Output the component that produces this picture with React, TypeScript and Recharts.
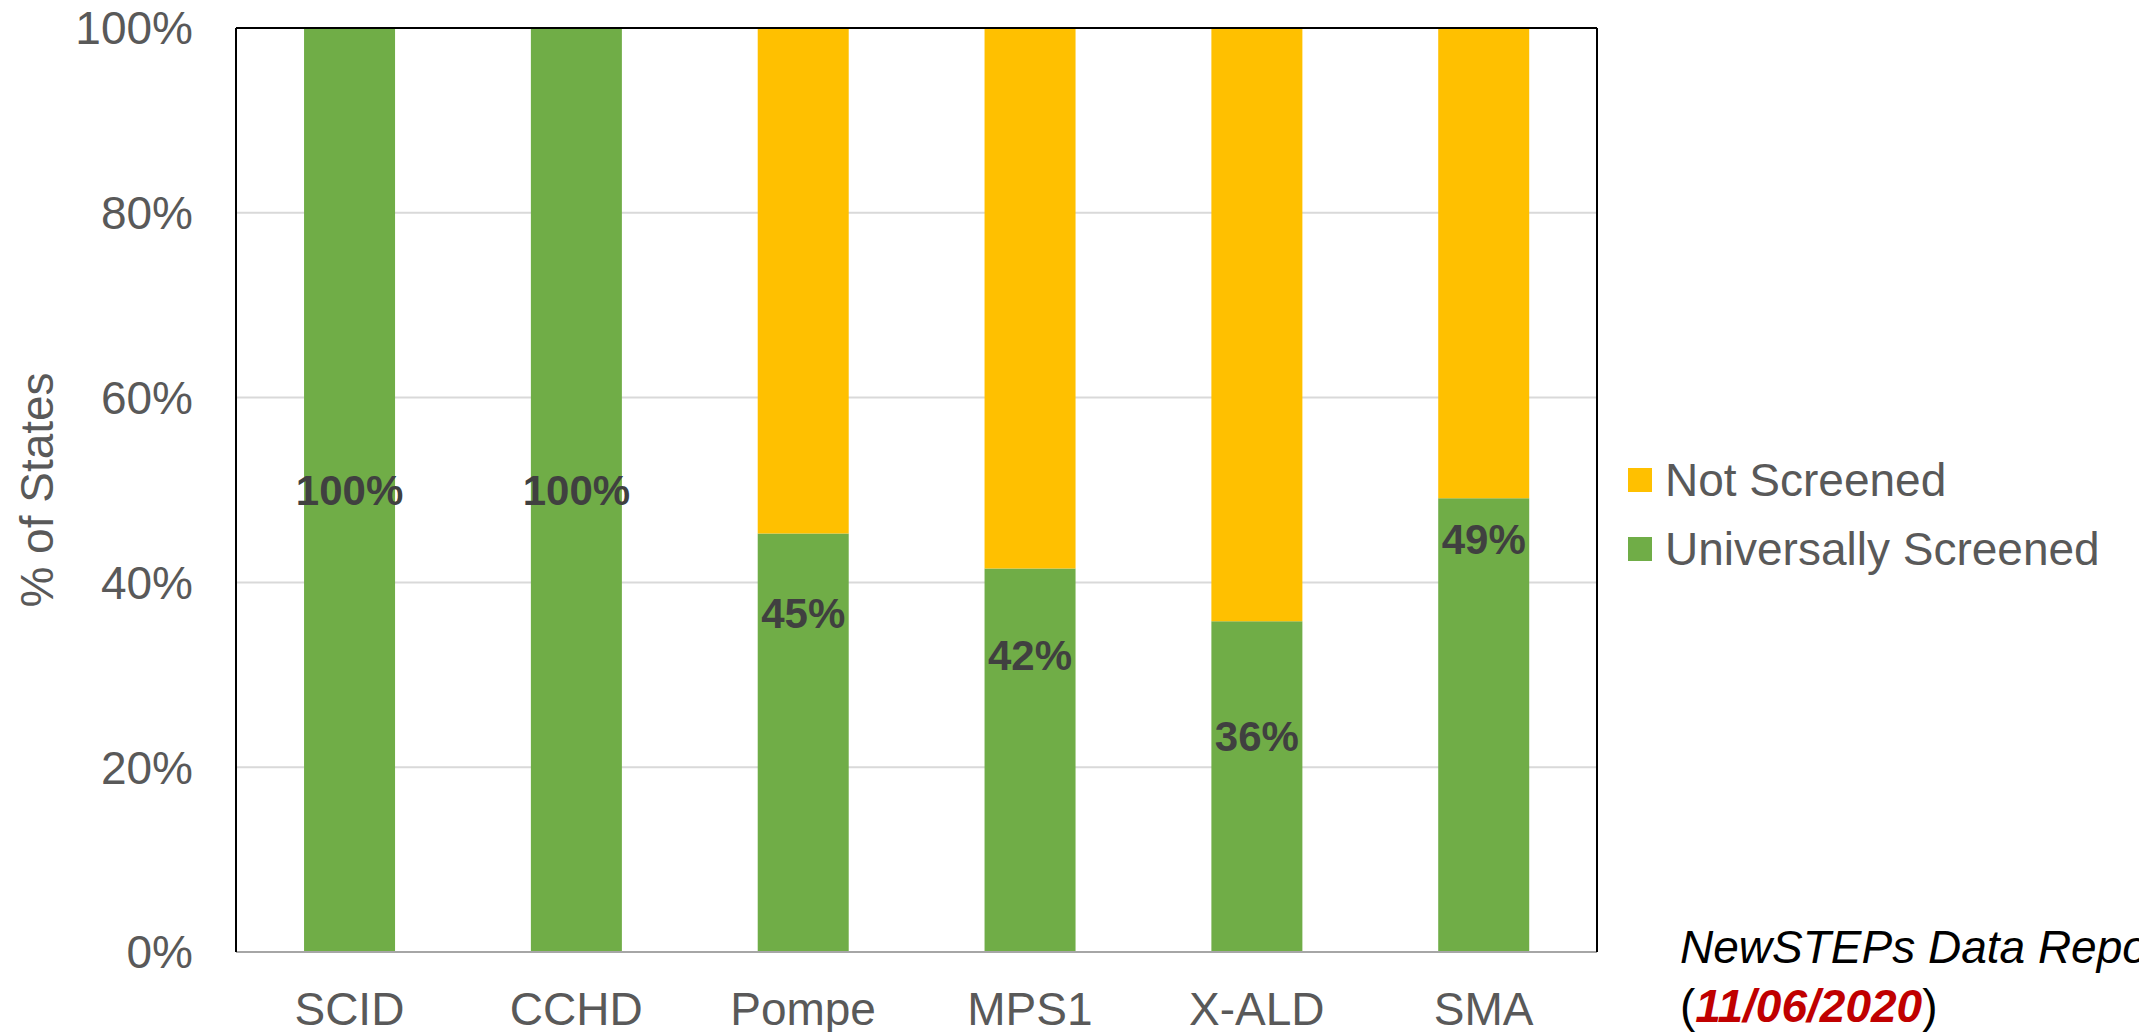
import { BarChart, Bar, XAxis, YAxis, CartesianGrid, Legend, LabelList } from "recharts";

const FONT = "Arial, 'Liberation Sans', sans-serif";

// conditions on the x axis
const categories = ["SCID", "CCHD", "Pompe", "MPS1", "X-ALD", "SMA"];
// % of states
const universallyScreened = [100, 100, 45.3, 41.5, 35.8, 49.1];
const notScreened = [0, 0, 54.7, 58.5, 64.2, 50.9];
// printed labels and where (in % units) they sit on the green bars
const valueLabels = ["100%", "100%", "45%", "42%", "36%", "49%"];
const labelAt = [50, 50, 36.6, 32.1, 23.3, 44.6];
const yTicks = [0, 20, 40, 60, 80, 100];

const GREEN = "#70AD47";
const YELLOW = "#FFC000";

const data = categories.map((name, i) => ({
  name,
  universal: universallyScreened[i],
  notScreened: notScreened[i],
}));

const GreenLabel = (props: any) => {
  const { x, y, width, height, index } = props;
  const value = universallyScreened[index];
  const bottom = y + height;
  const ly = bottom - (height * labelAt[index]) / value;
  return (
    <text
      x={x + width / 2}
      y={ly}
      textAnchor="middle"
      dominantBaseline="central"
      fill="#404040"
      fontSize={42}
      fontWeight="bold"
      fontFamily={FONT}
    >
      {valueLabels[index]}
    </text>
  );
};

const legendItems = [
  { label: "Not Screened", color: YELLOW },
  { label: "Universally Screened", color: GREEN },
];

const renderLegend = () => (
  <div style={{ fontFamily: FONT }}>
    {legendItems.map((it) => (
      <div key={it.label} style={{ display: "flex", alignItems: "center", height: 69 }}>
        <span style={{ width: 24, height: 24, background: it.color, display: "inline-block", marginRight: 13 }} />
        <span style={{ fontSize: 46, color: "#595959", whiteSpace: "nowrap" }}>{it.label}</span>
      </div>
    ))}
  </div>
);

const YLabel = (props: any) => {
  const { viewBox } = props;
  const cy = viewBox.y + viewBox.height / 2;
  const cx = 37;
  return (
    <text
      x={cx}
      y={cy}
      transform={`rotate(-90, ${cx}, ${cy})`}
      textAnchor="middle"
      dominantBaseline="central"
      fill="#595959"
      fontSize={46}
      fontFamily={FONT}
    >
      % of States
    </text>
  );
};

export default function App() {
  return (
    <div style={{ position: "absolute", left: 0, top: 0, width: 2139, height: 1032, overflow: "hidden", background: "#fff" }}>
      <BarChart
        width={2139}
        height={1032}
        data={data}
        margin={{ top: 27, right: 541, left: 0, bottom: 0 }}
        barCategoryGap="30%"
      >
        <CartesianGrid vertical={false} stroke="#D9D9D9" strokeWidth={2} />
        <XAxis
          dataKey="name"
          height={80}
          tickLine={false}
          tickSize={0}
          tickMargin={40}
          axisLine={{ stroke: "#A6A6A6", strokeWidth: 2 }}
          tick={{ fill: "#595959", fontSize: 46, fontFamily: FONT }}
          interval={0}
        />
        <XAxis
          xAxisId="top"
          orientation="top"
          dataKey="name"
          height={1}
          tick={false}
          tickLine={false}
          axisLine={{ stroke: "#000", strokeWidth: 2 }}
        />
        <YAxis
          width={236}
          domain={[0, 100]}
          ticks={yTicks}
          tickFormatter={(v: number) => `${v}%`}
          tickLine={false}
          tickSize={0}
          tickMargin={43}
          axisLine={{ stroke: "#000", strokeWidth: 2 }}
          tick={{ fill: "#595959", fontSize: 46, fontFamily: FONT }}
          label={<YLabel />}
        />
        <YAxis
          yAxisId="right"
          orientation="right"
          width={1}
          domain={[0, 100]}
          tick={false}
          tickLine={false}
          axisLine={{ stroke: "#000", strokeWidth: 2 }}
        />
        <Legend
          layout="horizontal"
          align="center"
          verticalAlign="middle"
          content={renderLegend}
          wrapperStyle={{ left: 1628, top: 445, width: 510, height: 138 }}
        />
        <Bar dataKey="universal" stackId="a" fill={GREEN} isAnimationActive={false}>
          <LabelList dataKey="universal" content={<GreenLabel />} />
        </Bar>
        <Bar dataKey="notScreened" stackId="a" fill={YELLOW} isAnimationActive={false} />
      </BarChart>
      <div
        style={{
          position: "absolute",
          left: 1680,
          top: 918,
          fontFamily: FONT,
          fontSize: 46,
          lineHeight: "59px",
          color: "#000",
          whiteSpace: "nowrap",
        }}
      >
        <div style={{ fontStyle: "italic" }}>NewSTEPs Data Repository</div>
        <div>
          (<span style={{ color: "#C00000", fontWeight: "bold", fontStyle: "italic" }}>11/06/2020</span>)
        </div>
      </div>
    </div>
  );
}
